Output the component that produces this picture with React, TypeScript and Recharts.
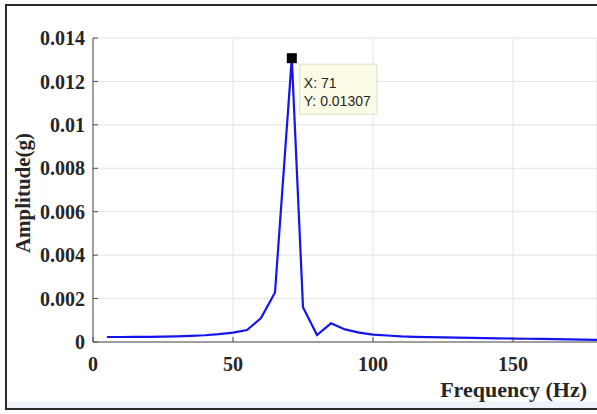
import { LineChart, Line, XAxis, YAxis, CartesianGrid, ReferenceDot } from 'recharts'

const freqs = [5, 10, 15, 20, 25, 30, 35, 40, 45, 50, 55, 60, 65, 71, 75, 80, 85, 90, 95, 100, 105, 110, 115, 120, 125, 130, 135, 140, 145, 150, 155, 160, 165, 170, 175, 180]
const amplitudes = [
  0.00023, 0.00023, 0.00024, 0.00024, 0.00025, 0.00026, 0.00028, 0.00031, 0.00036, 0.00043,
  0.00055, 0.0011, 0.00228, 0.01307, 0.0016, 0.00032, 0.00086, 0.00058, 0.00043, 0.00034,
  0.0003, 0.00026, 0.00024, 0.00022, 0.00021, 0.0002, 0.00019, 0.00018, 0.00017, 0.00016,
  0.00015, 0.00014, 0.00013, 0.00012, 0.00011, 0.0001,
]
const xTicks = [0, 50, 100, 150]
const yTicks = [0, 0.002, 0.004, 0.006, 0.008, 0.01, 0.012, 0.014]
const peak = { x: 71, y: 0.01307 }

const data = freqs.map((f, i) => ({ f, a: amplitudes[i] }))

const serif = '"Liberation Serif", "Times New Roman", serif'
const axisColor = '#4d4d4d'
const tickStyle = { fontFamily: serif, fontWeight: 700, fontSize: 20, fill: '#262626' }

function DataTip(props: any) {
  const { cx, cy } = props
  return (
    <g>
      <rect x={cx + 8} y={cy + 6} width={77} height={50} fill="#fbfbe6" stroke="#dedec8" />
      <text x={cx + 12} y={cy + 30} fontFamily='"Liberation Sans", Arial, sans-serif' fontSize={14} fill="#262626">
        X: {peak.x}
      </text>
      <text x={cx + 12} y={cy + 48} fontFamily='"Liberation Sans", Arial, sans-serif' fontSize={14} fill="#262626">
        Y: {peak.y}
      </text>
      <rect x={cx - 5} y={cy - 5} width={10} height={10} fill="#000" />
    </g>
  )
}

export default function App() {
  return (
    <div style={{ position: 'absolute', left: 0, top: 0, width: 597, height: 414, background: '#fff', overflow: 'hidden' }}>
      <div style={{ position: 'absolute', left: 5, top: 4, width: 620, height: 406, border: '2px solid #2a2a2a', boxSizing: 'border-box', background: '#fff' }}>
        <div style={{ position: 'absolute', left: 0, right: 0, bottom: 0, height: 7, background: '#eef3fa' }} />
      </div>
      <div style={{ position: 'absolute', left: 0, top: 0 }}>
        <LineChart width={597} height={414} data={data} margin={{ top: 38, right: 0, left: 0, bottom: 0 }}>
          <CartesianGrid stroke="#e3e3e3" strokeWidth={1} />
          <XAxis
            dataKey="f"
            type="number"
            domain={[0, 180]}
            ticks={xTicks}
            height={72}
            stroke={axisColor}
            tickSize={-5}
            tickMargin={20}
            tick={tickStyle}
            label={{
              content: ({ viewBox }: any) => (
                <text x={viewBox.x + viewBox.width - 10} y={viewBox.y + 55} textAnchor="end"
                  fontFamily={serif} fontWeight={700} fontSize={22} fill="#262626">
                  Frequency (Hz)
                </text>
              ),
            }}
          />
          <XAxis
            xAxisId="top"
            orientation="top"
            dataKey="f"
            type="number"
            domain={[0, 180]}
            ticks={xTicks}
            height={0}
            mirror
            tickSize={5}
            stroke={axisColor}
            tick={() => <g />}
          />
          <YAxis
            type="number"
            domain={[0, 0.014]}
            ticks={yTicks}
            width={93}
            stroke={axisColor}
            tickSize={-5}
            tickMargin={13}
            tick={tickStyle}
            tickFormatter={(v: number) => String(v)}
            label={{
              content: ({ viewBox }: any) => {
                const cx = viewBox.x + 23
                const cy = viewBox.y + viewBox.height / 2 + 3
                return (
                  <text x={cx} y={cy} transform={`rotate(-90 ${cx} ${cy})`} textAnchor="middle" dominantBaseline="central"
                    fontFamily={serif} fontWeight={700} fontSize={21} fill="#262626">
                    Amplitude(g)
                  </text>
                )
              },
            }}
          />
          <Line type="linear" dataKey="a" stroke="#1414f0" strokeWidth={2.2} dot={false} isAnimationActive={false} />
          <ReferenceDot x={peak.x} y={peak.y} r={5} shape={DataTip} />
        </LineChart>
      </div>
    </div>
  )
}
